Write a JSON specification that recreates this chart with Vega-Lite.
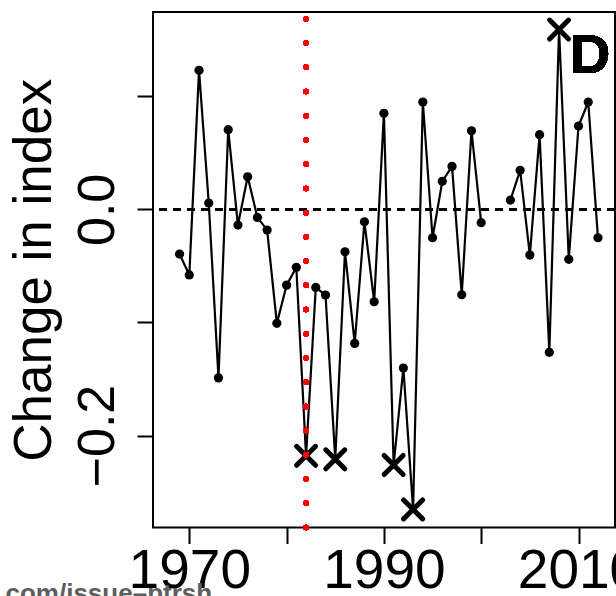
{
  "$schema": "https://vega.github.io/schema/vega-lite/v6.json",
  "autosize": {"type": "none"},
  "padding": {"left": 153, "top": 12, "right": 1, "bottom": 68.5},
  "width": 462,
  "height": 515.5,
  "background": "white",
  "config": {
    "font": "Liberation Sans",
    "view": {"stroke": "black", "strokeWidth": 2},
    "axis": {"domain": false, "grid": false, "tickColor": "black", "tickWidth": 2, "tickSize": 16, "labelColor": "black", "labelFont": "Liberation Sans", "titleFont": "Liberation Sans"}
  },
  "data": {
    "values": [
      {"year": 1969, "value": -0.0395, "seg": "a", "kind": "dot"},
      {"year": 1970, "value": -0.058, "seg": "a", "kind": "dot"},
      {"year": 1971, "value": 0.123, "seg": "a", "kind": "dot"},
      {"year": 1972, "value": 0.0056, "seg": "a", "kind": "dot"},
      {"year": 1973, "value": -0.149, "seg": "a", "kind": "dot"},
      {"year": 1974, "value": 0.0704, "seg": "a", "kind": "dot"},
      {"year": 1975, "value": -0.0139, "seg": "a", "kind": "dot"},
      {"year": 1976, "value": 0.0288, "seg": "a", "kind": "dot"},
      {"year": 1977, "value": -0.0071, "seg": "a", "kind": "dot"},
      {"year": 1978, "value": -0.0183, "seg": "a", "kind": "dot"},
      {"year": 1979, "value": -0.1008, "seg": "a", "kind": "dot"},
      {"year": 1980, "value": -0.067, "seg": "a", "kind": "dot"},
      {"year": 1981, "value": -0.0513, "seg": "a", "kind": "dot"},
      {"year": 1982, "value": -0.2179, "seg": "a", "kind": "cross"},
      {"year": 1983, "value": -0.069, "seg": "a", "kind": "dot"},
      {"year": 1984, "value": -0.0758, "seg": "a", "kind": "dot"},
      {"year": 1985, "value": -0.221, "seg": "a", "kind": "cross"},
      {"year": 1986, "value": -0.0375, "seg": "a", "kind": "dot"},
      {"year": 1987, "value": -0.1185, "seg": "a", "kind": "dot"},
      {"year": 1988, "value": -0.011, "seg": "a", "kind": "dot"},
      {"year": 1989, "value": -0.0817, "seg": "a", "kind": "dot"},
      {"year": 1990, "value": 0.0849, "seg": "a", "kind": "dot"},
      {"year": 1991, "value": -0.226, "seg": "a", "kind": "cross"},
      {"year": 1992, "value": -0.1403, "seg": "a", "kind": "dot"},
      {"year": 1993, "value": -0.2653, "seg": "a", "kind": "cross"},
      {"year": 1994, "value": 0.0949, "seg": "a", "kind": "dot"},
      {"year": 1995, "value": -0.0251, "seg": "a", "kind": "dot"},
      {"year": 1996, "value": 0.0248, "seg": "a", "kind": "dot"},
      {"year": 1997, "value": 0.038, "seg": "a", "kind": "dot"},
      {"year": 1998, "value": -0.0755, "seg": "a", "kind": "dot"},
      {"year": 1999, "value": 0.0695, "seg": "a", "kind": "dot"},
      {"year": 2000, "value": -0.0118, "seg": "a", "kind": "dot"},
      {"year": 2003, "value": 0.0082, "seg": "b", "kind": "dot"},
      {"year": 2004, "value": 0.0345, "seg": "b", "kind": "dot"},
      {"year": 2005, "value": -0.0404, "seg": "b", "kind": "dot"},
      {"year": 2006, "value": 0.066, "seg": "b", "kind": "dot"},
      {"year": 2007, "value": -0.1264, "seg": "b", "kind": "dot"},
      {"year": 2008, "value": 0.159, "seg": "b", "kind": "cross"},
      {"year": 2009, "value": -0.0442, "seg": "b", "kind": "dot"},
      {"year": 2010, "value": 0.0737, "seg": "b", "kind": "dot"},
      {"year": 2011, "value": 0.0949, "seg": "b", "kind": "dot"},
      {"year": 2012, "value": -0.0251, "seg": "b", "kind": "dot"}
    ]
  },
  "encoding": {
    "x": {
      "field": "year", "type": "quantitative",
      "scale": {"domain": [1966.27, 2013.75], "nice": false, "zero": false},
      "axis": {
        "values": [1970, 1980, 1990, 2000, 2010],
        "labelExpr": "datum.value == 1980 || datum.value == 2000 ? '' : datum.label",
        "format": "d",
        "labelFontSize": 55,
        "labelBaseline": "alphabetic",
        "labelPadding": 43.5,
        "labelFlush": false,
        "labelOverlap": false,
        "labelBound": false,
        "title": "com/issue–ptrsh",
        "titleFontSize": 26,
        "titleFontWeight": "bold",
        "titleColor": "#5e5e5e",
        "titleX": -148,
        "titleY": 74,
        "titleAlign": "left",
        "titleAnchor": "start",
        "titleBaseline": "alphabetic"
      }
    },
    "y": {
      "field": "value", "type": "quantitative",
      "scale": {"domain": [-0.2813, 0.1745], "nice": false, "zero": false},
      "axis": {
        "values": [-0.2, -0.1, 0, 0.1],
        "labelExpr": "abs(datum.value) < 1e-9 ? '0.0' : abs(datum.value + 0.2) < 1e-9 ? '−0.2' : ''",
        "labelFontSize": 52,
        "labelAngle": 270,
        "labelAlign": "center",
        "labelBaseline": "alphabetic",
        "labelPadding": 24,
        "labelOverlap": false,
        "labelFlush": false,
        "title": "Change in index",
        "titleFontSize": 53,
        "titleFontWeight": "normal",
        "titleColor": "black",
        "titleAngle": 270,
        "titleX": -103,
        "titleY": 257.75,
        "titleAlign": "center",
        "titleBaseline": "alphabetic"
      }
    }
  },
  "layer": [
    {
      "mark": {"type": "rule", "color": "black", "strokeWidth": 2, "strokeDash": [8, 6]},
      "encoding": {"x": null, "y": {"datum": 0}}
    },
    {
      "mark": {"type": "line", "color": "black", "strokeWidth": 2.2},
      "encoding": {"detail": {"field": "seg"}}
    },
    {
      "transform": [{"filter": "datum.kind == 'dot'"}],
      "mark": {"type": "point", "shape": "circle", "filled": true, "color": "black", "size": 85, "opacity": 1}
    },
    {
      "transform": [{"filter": "datum.kind == 'cross'"}],
      "mark": {"type": "point", "shape": "M-1,-1L1,1M-1,1L1,-1", "filled": false, "stroke": "black", "strokeWidth": 5, "strokeCap": "round", "size": 360, "opacity": 1}
    },
    {
      "mark": {"type": "rule", "color": "#ff0000", "strokeWidth": 5.5, "strokeCap": "round", "strokeDash": [0, 24.22]},
      "encoding": {"x": {"datum": 1982}, "y": {"datum": -0.2813}, "y2": {"datum": 0.1745}}
    },
    {
      "mark": {"type": "text", "text": "D", "fontSize": 56, "fontWeight": "bold", "align": "left", "baseline": "alphabetic", "color": "black", "font": "Liberation Sans"},
      "encoding": {"x": {"datum": 2009.13}, "y": {"datum": 0.1205}}
    }
  ]
}
